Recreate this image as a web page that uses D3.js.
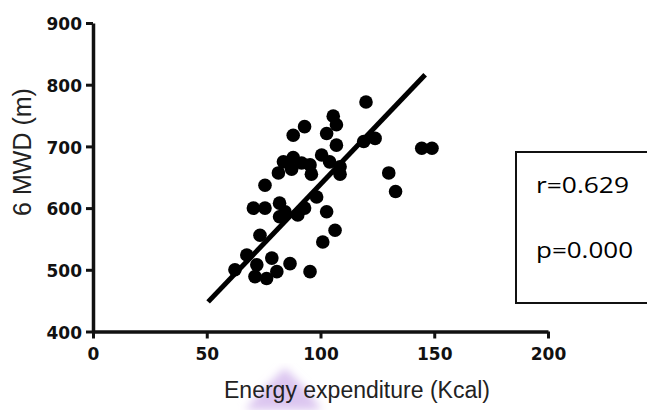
<html>
<head>
<script src="https://d3js.org/d3.v7.min.js"></script>
<style>
  body { margin: 0; background: #fff; }
  .tick text { font-family: "DejaVu Sans", sans-serif; font-weight: bold; font-size: 17px; fill: #111; }
</style>
</head>
<body>
<svg width="647" height="410"></svg>
<script>
// energy expenditure (Kcal) and 6 minute walk distance (m)
var energy = [120, 105.6, 107, 93, 88, 102.7, 107, 124, 119, 144.5, 149, 130, 133,
              83.7, 88, 91.7, 95.4, 81.5, 87.3, 96, 100.5, 104, 108.6, 108.6, 75.6,
              70.5, 75.6, 82, 84.4, 82, 90, 93, 98.3, 102.7, 73.4, 106.4, 101,
              67.6, 62.4, 78.6, 86.6, 71.2, 76.3, 80.8, 95.4, 72];
var walk = [772, 749, 735, 732, 718, 721, 702, 713, 708, 697, 697, 657, 627,
            675, 682, 673, 670, 657, 663, 655, 686, 675, 655, 667, 637,
            600, 600, 608, 594, 586, 589, 600, 618, 594, 556, 564, 545,
            524, 500, 519, 510, 489, 486, 497, 497, 508];
// fitted line end points
var fitX = [50.6, 146];
var fitY = [448, 816];
var xTicks = [0, 50, 100, 150, 200];
var yTicks = [400, 500, 600, 700, 800, 900];
var stats = ["r=0.629", "p=0.000"];

var svg = d3.select("svg");
var x = d3.scaleLinear().domain([0, 200]).range([93, 548]);
var y = d3.scaleLinear().domain([400, 900]).range([331.5, 23]);

// lavender smudge from the scan
var defs = svg.append("defs");
defs.append("filter").attr("id", "blur").append("feGaussianBlur").attr("stdDeviation", 4);
svg.append("path")
    .attr("d", "M285,368 L305,388 L322,410 L245,410 L262,390 Z")
    .attr("fill", "#dcc6f0")
    .attr("filter", "url(#blur)");

// axes
var yAxis = svg.append("g")
    .attr("transform", "translate(93,0)")
    .call(d3.axisLeft(y).tickValues(yTicks).tickSize(7).tickSizeOuter(0).tickPadding(4));
var xAxis = svg.append("g")
    .attr("transform", "translate(0,331.5)")
    .call(d3.axisBottom(x).tickValues(xTicks).tickSize(7).tickSizeOuter(0).tickPadding(9));
svg.selectAll(".domain").attr("stroke", "#111").attr("stroke-width", 3.5);
svg.selectAll(".tick line").attr("stroke", "#111").attr("stroke-width", 3);
yAxis.selectAll(".tick text").attr("dy", "0.4em");

// points
svg.append("g")
    .selectAll("circle")
    .data(energy)
    .enter()
    .append("circle")
    .attr("cx", function(d) { return x(d); })
    .attr("cy", function(d, i) { return y(walk[i]); })
    .attr("r", 6.8)
    .attr("fill", "#000");

// regression line
svg.append("line")
    .attr("x1", x(fitX[0])).attr("y1", y(fitY[0]))
    .attr("x2", x(fitX[1])).attr("y2", y(fitY[1]))
    .attr("stroke", "#000")
    .attr("stroke-width", 5);

// axis titles
svg.append("text")
    .attr("x", 357).attr("y", 398)
    .attr("text-anchor", "middle")
    .style("font-family", "Liberation Sans, Arial, sans-serif")
    .style("font-size", "23px")
    .style("fill", "#222")
    .text("Energy expenditure (Kcal)");
svg.append("text")
    .attr("transform", "translate(31,152) rotate(-90)")
    .attr("text-anchor", "middle")
    .style("font-family", "Liberation Sans, Arial, sans-serif")
    .style("font-size", "25px")
    .style("fill", "#222")
    .text("6 MWD (m)");

// stats box
svg.append("rect")
    .attr("x", 516).attr("y", 152)
    .attr("width", 150).attr("height", 151)
    .attr("fill", "none")
    .attr("stroke", "#111")
    .attr("stroke-width", 2);
svg.append("g")
    .selectAll("text")
    .data(stats)
    .enter()
    .append("text")
    .attr("x", 536)
    .attr("y", function(d, i) { return 193 + i * 65; })
    .attr("textLength", function(d, i) { return i ? 97 : 93; })
    .attr("lengthAdjust", "spacingAndGlyphs")
    .style("font-family", "Open Sans, sans-serif")
    .style("font-size", "22px")
    .style("fill", "#000")
    .text(function(d) { return d; });
</script>
</body>
</html>
